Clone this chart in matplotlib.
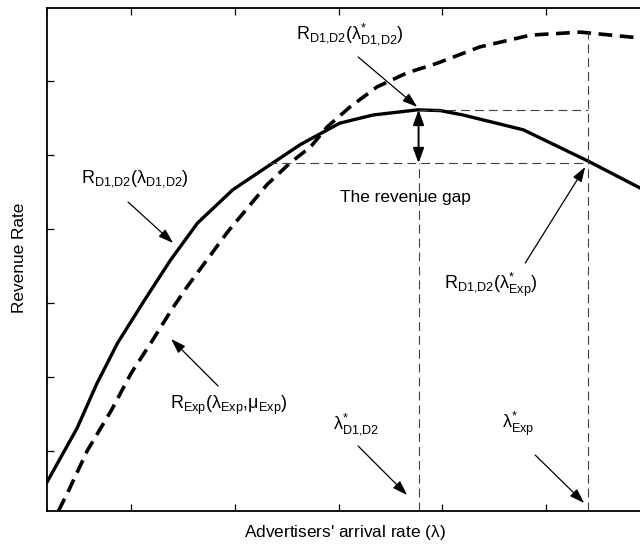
"""Revenue rate versus advertisers' arrival rate, with the revenue gap."""

import matplotlib

matplotlib.use("Agg")
import matplotlib.pyplot as plt

plt.rcParams["font.family"] = ["Liberation Sans", "DejaVu Sans"]
plt.rcParams["mathtext.fontset"] = "custom"
plt.rcParams["mathtext.rm"] = "Liberation Sans"
plt.rcParams["mathtext.it"] = "Liberation Sans:italic"
plt.rcParams["mathtext.default"] = "rm"

# R_D1,D2 curve (solid)
solid_x = [0.19, 0.48, 0.67, 0.87, 1.13, 1.38, 1.64, 1.98, 2.31, 2.63, 3.01,
           3.33, 3.76, 3.98, 4.20, 4.78, 5.40, 5.91]
solid_y = [0.58, 1.31, 1.91, 2.46, 3.04, 3.58, 4.08, 4.53, 4.84, 5.14, 5.43,
           5.54, 5.61, 5.60, 5.54, 5.34, 4.92, 4.55]

# R_Exp curve (thick dashed)
exp_x = [0.30, 0.40, 0.58, 0.81, 1.00, 1.19, 1.40, 1.54, 1.73, 1.93, 2.12,
         2.31, 2.53, 2.73, 2.89, 3.11, 3.37, 3.66, 3.95, 4.36, 4.85, 5.33, 5.91]
exp_y = [0.19, 0.47, 1.01, 1.55, 2.05, 2.46, 2.93, 3.22, 3.58, 3.96, 4.28,
         4.60, 4.89, 5.11, 5.38, 5.65, 5.92, 6.11, 6.24, 6.46, 6.62, 6.66, 6.58]

# reference levels
lam_d = 3.77        # lambda*_D1,D2
lam_exp = 5.40      # lambda*_Exp
r_peak = 5.61       # R_D1,D2(lambda*_D1,D2)
r_at_exp = 4.89     # R_D1,D2(lambda*_Exp)
exp_peak = 6.66
gap_start = 2.32

x_ticks = [1, 2, 3, 4, 5]
y_ticks = [1, 2, 3, 4, 5, 6]
X_LIM = (0.19, 6.0)
Y_LIM = (0.19, 6.986)

ARROW = dict(arrowstyle="-|>,head_length=0.6,head_width=0.2", color="black",
             lw=0.9, mutation_scale=15, shrinkA=0, shrinkB=0)


def note(ax, label, xy, xytext, tail):
    ax.text(*xytext, label, fontsize=13, ha="center", va="center")
    ax.annotate("", xy=xy, xytext=tail, arrowprops=ARROW)


def main() -> None:
    fig = plt.figure(figsize=(6.4, 5.46), dpi=100)
    ax = fig.add_axes([47 / 640, 35 / 546, 603 / 640, 503 / 546])

    ax.plot(solid_x, solid_y, color="black", lw=2.4, solid_joinstyle="round")
    ax.plot(exp_x, exp_y, color="black", lw=2.6, linestyle=(0, (3.8, 2.1)))

    guide = dict(color="#404040", lw=0.8, linestyle=(0, (8, 4.5)))
    ax.plot([lam_d, lam_exp], [r_peak, r_peak], **guide)
    ax.plot([gap_start, lam_exp], [r_at_exp, r_at_exp], **guide)
    ax.plot([lam_exp, lam_exp], [Y_LIM[0], exp_peak], **guide)
    ax.plot([lam_d, lam_d], [Y_LIM[0], r_at_exp], **guide)

    # the revenue gap double arrow
    ax.annotate("", xy=(lam_d, r_peak), xytext=(lam_d, r_at_exp),
                arrowprops=dict(arrowstyle="<|-|>,head_length=0.6,head_width=0.22",
                                color="black", lw=1.4, mutation_scale=15,
                                shrinkA=0, shrinkB=0))

    note(ax, r"$\mathrm{R}_{\mathrm{D1{,}D2}}(\lambda^{*}_{\mathrm{D1{,}D2}})$",
         (3.757, 5.649), (3.111, 6.635), (3.188, 6.324))
    note(ax, r"$\mathrm{R}_{\mathrm{D1{,}D2}}(\lambda_{\mathrm{D1{,}D2}})$",
         (1.405, 3.811), (1.039, 4.676), (0.971, 4.365))
    note(ax, r"$\mathrm{R}_{\mathrm{D1{,}D2}}(\lambda^{*}_{\mathrm{Exp}})$",
         (5.376, 4.838), (4.470, 3.243), (4.798, 3.541))
    note(ax, r"$\mathrm{R}_{\mathrm{Exp}}(\lambda_{\mathrm{Exp}}{,}\mu_{\mathrm{Exp}})$",
         (1.386, 2.514), (1.945, 1.622), (1.839, 1.878))
    note(ax, r"$\lambda^{*}_{\mathrm{D1{,}D2}}$",
         (3.660, 0.405), (3.169, 1.365), (3.188, 1.068))
    note(ax, r"$\lambda^{*}_{\mathrm{Exp}}$",
         (5.366, 0.297), (4.730, 1.365), (4.894, 0.946))

    ax.text(3.641, 4.419, "The revenue gap", fontsize=12.4, ha="center", va="center")

    ax.set_xlim(*X_LIM)
    ax.set_ylim(*Y_LIM)
    ax.set_xticks(x_ticks)
    ax.set_yticks(y_ticks)
    ax.tick_params(direction="in", length=5, width=0.9, top=True,
                   labelbottom=False, labelleft=False)
    for side in ("left", "bottom", "top"):
        ax.spines[side].set_linewidth(1.3)
    ax.spines["right"].set_visible(False)

    fig.text(345 / 640, 1 - 532 / 546, r"Advertisers' arrival rate ($\lambda$)",
             fontsize=12.4, ha="center", va="center")
    fig.text(20 / 640, 1 - 258 / 546, "Revenue Rate", fontsize=12.4,
             ha="center", va="center", rotation=90)

    fig.savefig("out.png", dpi=100)
    plt.close(fig)


if __name__ == "__main__":
    main()
